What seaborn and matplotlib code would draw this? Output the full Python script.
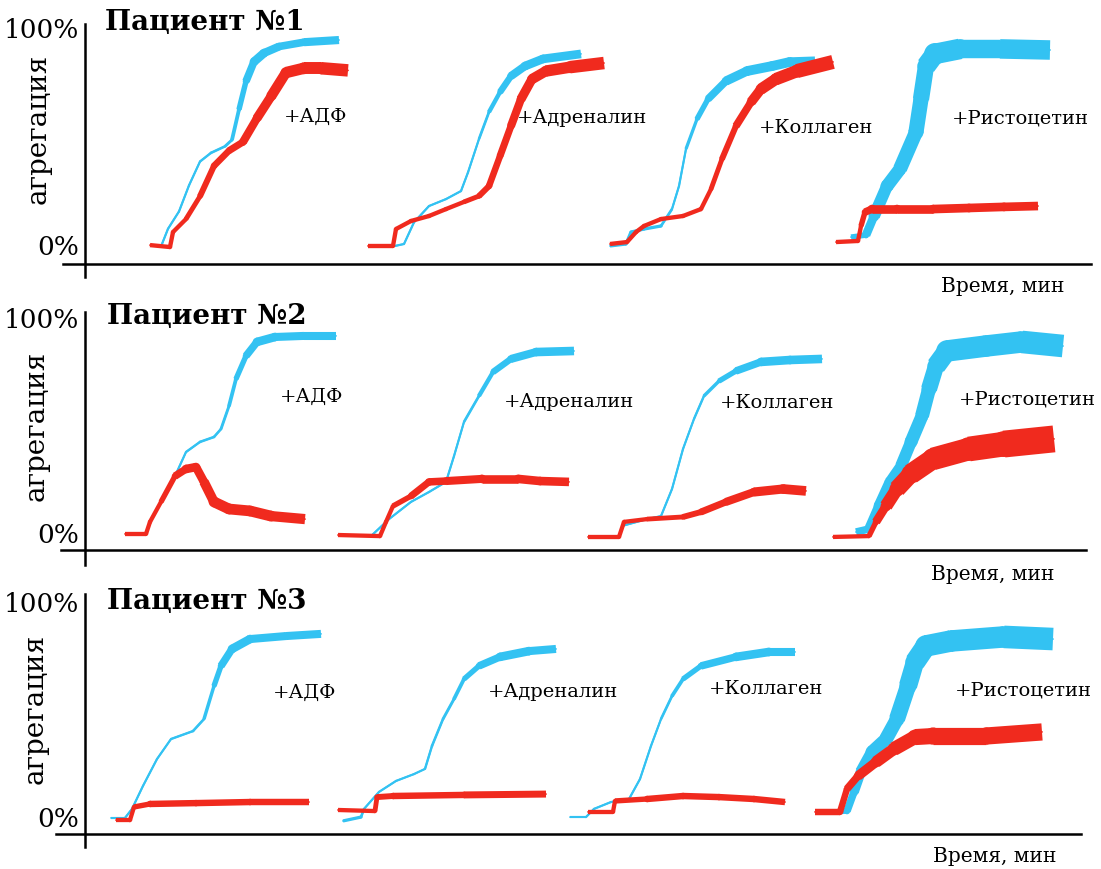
import numpy as np
import matplotlib
matplotlib.use("Agg")
import matplotlib.pyplot as plt
from matplotlib.collections import LineCollection
import seaborn as sns

# agonists and patients
AGENTS = ["+АДФ", "+Адреналин", "+Коллаген", "+Ристоцетин"]
PATIENTS = ["Пациент №1", "Пациент №2", "Пациент №3"]

# aggregation traces: x = time (arb.), y = aggregation %, w = noise band width %
# patient 1
P1_ADP_BLUE_X = [7.7, 8.3, 9.4, 10.4, 11.5, 12.6, 14.0, 14.7, 15.4, 16.1, 16.9, 17.9, 19.4, 21.9, 25.4]
P1_ADP_BLUE_Y = [0, 7, 15, 27, 38, 42, 45, 48, 62, 75, 84, 88, 91, 93, 94]
P1_ADP_BLUE_W = [1, 1, 1, 1, 1, 1.2, 1.2, 1.5, 2, 3, 4, 4, 3.5, 3.5, 4]
P1_ADP_RED_X = [6.5, 8.5, 8.8, 10.1, 11.5, 12.9, 14.4, 15.8, 17.2, 18.6, 20.1, 21.9, 23.6, 26.3]
P1_ADP_RED_Y = [-0.5, -1.4, 5.5, 11.5, 22, 36, 43, 47, 58, 68, 79, 81, 81, 80]
P1_ADP_RED_W = [2, 2, 2, 2, 2.5, 3, 3, 3.5, 4, 4.5, 5, 5.5, 5.5, 6]

P1_ADR_BLUE_X = [31.0, 31.9, 32.9, 34.4, 36.1, 37.6, 38.3, 39.4, 40.4, 41.5, 42.6, 44.0, 45.8, 49.6]
P1_ADR_BLUE_Y = [-0.9, 0, 10, 17.5, 20.7, 24.4, 33, 48.4, 60.8, 70, 77.4, 82, 85.3, 87.6]
P1_ADR_BLUE_W = [1, 1, 1, 1, 1, 1, 1, 1, 1.5, 2.5, 3.5, 4, 4, 4]
P1_ADR_RED_X = [28.3, 30.8, 31.1, 32.6, 34.4, 36.1, 37.9, 39.4, 40.4, 41.5, 42.6, 43.6, 44.7, 46.1, 48.5, 51.9]
P1_ADR_RED_Y = [-0.9, -0.9, 6.9, 10.6, 12.9, 16.1, 19.4, 22.1, 26.7, 40.5, 54.4, 66.8, 76, 79.7, 81.5, 83.4]
P1_ADR_RED_W = [2, 2, 2, 2, 2, 2, 2, 2.5, 3, 3, 3.5, 4, 4.5, 5, 5.5, 6]

P1_COL_BLUE_X = [52.5, 54.1, 54.6, 55.9, 57.6, 58.7, 59.4, 60.1, 61.2, 62.3, 64.1, 66.2, 68.7, 70.5, 73.0]
P1_COL_BLUE_Y = [-0.9, 0, 5.5, 6.9, 8.3, 16.1, 26.7, 43.8, 57.6, 66.8, 75.1, 79.7, 82, 83.9, 84.3]
P1_COL_BLUE_W = [1.5, 1.5, 1.5, 1.5, 1.5, 1, 1, 1, 2, 3, 4, 4.5, 4.5, 4.5, 4]
P1_COL_RED_X = [52.5, 54.2, 55.1, 55.9, 57.6, 59.8, 61.6, 62.6, 63.7, 65.1, 66.6, 67.6, 69.1, 71.2, 74.8]
P1_COL_RED_Y = [0, 0.9, 5.5, 8.3, 11.5, 12.9, 16.1, 25.3, 39.2, 54.4, 65.4, 71.4, 76, 79.7, 83.9]
P1_COL_RED_W = [2, 2, 2, 2, 2, 2, 2, 2, 2.5, 3, 4, 5, 5.5, 6, 7]

P1_RIS_BLUE_X = [76.6, 78.1, 78.9, 80.2, 81.5, 83.1, 83.6, 84.1, 85.0, 87.5, 91.5, 96.5]
P1_RIS_BLUE_Y = [3.2, 4.1, 12.9, 26.7, 34.6, 51.6, 66.8, 82, 87.6, 89.9, 89.9, 89.4]
P1_RIS_BLUE_W = [2, 3, 5, 6, 6, 7, 7, 8, 10, 9, 8, 10]
P1_RIS_RED_X = [75.1, 77.3, 77.6, 78.0, 78.7, 81.2, 84.8, 88.4, 91.9, 95.3]
P1_RIS_RED_Y = [0.9, 1.4, 8.3, 14.7, 16.1, 16.1, 16.1, 16.6, 17.1, 17.5]
P1_RIS_RED_W = [2, 2, 2, 3, 4, 4, 4, 4, 4, 4]

# patient 2
P2_ADP_BLUE_X = [6.1, 6.5, 7.6, 9.0, 10.1, 11.5, 12.9, 13.6, 14.4, 15.1, 16.1, 17.2, 19.0, 21.9, 25.1]
P2_ADP_BLUE_Y = [-0.9, 4.7, 14, 26, 37.2, 41.9, 44.2, 47.9, 58.6, 71.2, 81.9, 88.4, 90.7, 91.2, 91.2]
P2_ADP_BLUE_W = [1, 1, 1, 1, 1, 1.2, 1.2, 1.2, 1.5, 2, 3, 4, 4, 3.5, 4]
P2_ADP_RED_X = [4.0, 6.1, 6.5, 7.6, 9.0, 10.1, 11.1, 11.9, 12.9, 14.4, 16.5, 18.6, 22.0]
P2_ADP_RED_Y = [-0.9, -0.9, 4.7, 14, 26, 29.3, 30.2, 23.3, 14, 10.7, 9.8, 7.4, 6.0]
P2_ADP_RED_W = [2, 2, 2, 2, 3, 4, 4, 4, 5, 5, 5, 5, 4.5]

P2_ADR_BLUE_X = [28.6, 30.4, 32.6, 34.4, 36.1, 36.9, 37.9, 39.4, 40.8, 42.6, 45.1, 48.9]
P2_ADR_BLUE_Y = [-1.9, 6.0, 14, 18.6, 23.3, 35.3, 51.2, 63.3, 74.4, 80.5, 83.7, 84.2]
P2_ADR_BLUE_W = [1, 1, 1, 1, 1, 1, 1, 1.5, 2.5, 3.5, 4, 4]
P2_ADR_RED_X = [25.3, 29.5, 30.1, 30.8, 32.6, 34.4, 36.1, 39.7, 43.3, 45.5, 48.4]
P2_ADR_RED_Y = [-1.4, -1.9, 4.7, 12.1, 16.7, 23.3, 23.7, 24.7, 24.7, 23.7, 23.3]
P2_ADR_RED_W = [2, 2, 2, 2, 3, 3.5, 3.5, 4, 4, 4, 4]

P2_COL_BLUE_X = [53.7, 56.2, 57.6, 58.7, 59.8, 60.9, 61.9, 63.4, 65.1, 67.6, 70.5, 73.7]
P2_COL_BLUE_Y = [2.8, 6.0, 7.4, 20, 38.6, 52.6, 63.3, 70.2, 74.9, 79.1, 80, 80.5]
P2_COL_BLUE_W = [1, 1, 1, 1, 1, 1, 1.2, 2, 3, 4, 4, 4]
P2_COL_RED_X = [50.3, 53.4, 53.9, 56.2, 59.8, 61.6, 64.1, 66.9, 69.8, 72.1]
P2_COL_RED_Y = [-2.3, -2.3, 4.7, 6.0, 7.0, 9.3, 14, 18.6, 20, 19.1]
P2_COL_RED_W = [2, 2, 2, 2, 2.5, 3, 3.5, 4, 4.5, 4.5]

P2_RIS_BLUE_X = [77.1, 78.4, 79.4, 80.5, 81.6, 82.6, 83.7, 84.4, 85.1, 86.2, 90.1, 93.7, 97.8]
P2_RIS_BLUE_Y = [0, 1.4, 12.1, 23.3, 30.7, 41.9, 54, 66.5, 77.2, 84.2, 86.5, 88.4, 86.5]
P2_RIS_BLUE_W = [3, 4, 5, 5, 5, 6, 6, 7, 8, 10, 10, 10, 11]
P2_RIS_RED_X = [74.8, 78.4, 79.1, 80.1, 81.2, 82.6, 84.8, 88.4, 91.9, 96.9]
P2_RIS_RED_Y = [-2.3, -1.9, 4.7, 12.1, 20, 27, 34, 38.6, 40.9, 43.3]
P2_RIS_RED_W = [2, 2, 3, 5, 7, 9, 10, 11, 12, 13]

# patient 3
P3_ADP_BLUE_X = [2.6, 4.0, 4.7, 5.8, 7.2, 8.6, 10.8, 11.9, 12.9, 13.6, 14.7, 16.5, 20.1, 23.6]
P3_ADP_BLUE_Y = [-0.9, -0.9, 3.3, 14, 26.5, 35.8, 39.5, 45.1, 60.5, 69.8, 77.7, 82.3, 83.7, 84.7]
P3_ADP_BLUE_W = [1, 1, 1, 1, 1, 1, 1.2, 1.2, 2, 3, 4, 4, 3.5, 4]
P3_ADP_RED_X = [3.1, 4.5, 4.9, 6.5, 11.1, 16.5, 22.4]
P3_ADP_RED_Y = [-1.9, -1.9, 4.2, 5.6, 6.0, 6.5, 6.5]
P3_ADP_RED_W = [2, 2, 2, 3, 3, 3, 3]

P3_ADR_BLUE_X = [25.8, 27.6, 27.9, 29.4, 31.1, 32.9, 34.0, 34.7, 35.8, 36.9, 37.9, 39.4, 41.5, 44.4, 47.1]
P3_ADR_BLUE_Y = [-2.3, -0.5, 3.3, 11.2, 16.3, 19.5, 21.9, 32.6, 45.1, 54.4, 63.7, 69.8, 74.0, 76.7, 77.7]
P3_ADR_BLUE_W = [1.5, 1.5, 1, 1, 1, 1, 1, 1.2, 1.2, 1.5, 2, 3, 4, 4, 3.5]
P3_ADR_RED_X = [25.3, 29.0, 29.2, 30.8, 37.9, 46.1]
P3_ADR_RED_Y = [2.8, 2.3, 8.8, 9.3, 9.8, 10.2]
P3_ADR_RED_W = [2, 2, 2.5, 3, 3, 3.5]

P3_COL_BLUE_X = [48.5, 50.1, 50.9, 52.6, 54.4, 55.5, 56.6, 57.6, 58.7, 59.8, 61.6, 65.1, 68.4, 71.0]
P3_COL_BLUE_Y = [-0.5, -0.5, 3.3, 6.5, 7.9, 17.2, 32.6, 45.1, 55.8, 63.7, 69.8, 74.0, 76.3, 76.3]
P3_COL_BLUE_W = [1, 1, 1, 1, 1, 1, 1, 1, 1.5, 2, 3, 4, 4, 3.5]
P3_COL_RED_X = [50.3, 52.8, 53.0, 56.2, 59.8, 63.4, 66.9, 70.0]
P3_COL_RED_Y = [1.9, 1.9, 7.0, 7.9, 9.3, 8.8, 7.9, 6.5]
P3_COL_RED_W = [2, 2, 2, 3, 3, 3, 3, 3]

P3_RIS_BLUE_X = [75.1, 76.2, 76.9, 77.6, 78.7, 80.1, 81.2, 82.3, 83.0, 84.1, 86.6, 91.9, 96.8]
P3_RIS_BLUE_Y = [1.9, 2.3, 11.2, 20.5, 29.8, 35.8, 45.1, 60.5, 71.6, 79.1, 81.4, 83.3, 82.3]
P3_RIS_BLUE_W = [2, 3, 4, 5, 6, 6, 7, 8, 9, 10, 10, 10, 11]
P3_RIS_RED_X = [73.0, 75.5, 76.2, 77.3, 79.1, 80.9, 83.0, 84.8, 90.1, 95.7]
P3_RIS_RED_Y = [1.9, 1.9, 12.6, 18.6, 25.1, 31.2, 36.7, 37.2, 37.2, 39.1]
P3_RIS_RED_W = [3, 3, 3, 4, 5, 6, 7, 8, 8, 8]

BLUE = "#33C2F2"
RED = "#F02A1E"

# traces per panel, blue first so red lies on top
TRACES = [
    [(P1_ADP_BLUE_X, P1_ADP_BLUE_Y, P1_ADP_BLUE_W, BLUE), (P1_ADR_BLUE_X, P1_ADR_BLUE_Y, P1_ADR_BLUE_W, BLUE),
     (P1_COL_BLUE_X, P1_COL_BLUE_Y, P1_COL_BLUE_W, BLUE), (P1_RIS_BLUE_X, P1_RIS_BLUE_Y, P1_RIS_BLUE_W, BLUE),
     (P1_ADP_RED_X, P1_ADP_RED_Y, P1_ADP_RED_W, RED), (P1_ADR_RED_X, P1_ADR_RED_Y, P1_ADR_RED_W, RED),
     (P1_COL_RED_X, P1_COL_RED_Y, P1_COL_RED_W, RED), (P1_RIS_RED_X, P1_RIS_RED_Y, P1_RIS_RED_W, RED)],
    [(P2_ADP_BLUE_X, P2_ADP_BLUE_Y, P2_ADP_BLUE_W, BLUE), (P2_ADR_BLUE_X, P2_ADR_BLUE_Y, P2_ADR_BLUE_W, BLUE),
     (P2_COL_BLUE_X, P2_COL_BLUE_Y, P2_COL_BLUE_W, BLUE), (P2_RIS_BLUE_X, P2_RIS_BLUE_Y, P2_RIS_BLUE_W, BLUE),
     (P2_ADP_RED_X, P2_ADP_RED_Y, P2_ADP_RED_W, RED), (P2_ADR_RED_X, P2_ADR_RED_Y, P2_ADR_RED_W, RED),
     (P2_COL_RED_X, P2_COL_RED_Y, P2_COL_RED_W, RED), (P2_RIS_RED_X, P2_RIS_RED_Y, P2_RIS_RED_W, RED)],
    [(P3_ADP_BLUE_X, P3_ADP_BLUE_Y, P3_ADP_BLUE_W, BLUE), (P3_ADR_BLUE_X, P3_ADR_BLUE_Y, P3_ADR_BLUE_W, BLUE),
     (P3_COL_BLUE_X, P3_COL_BLUE_Y, P3_COL_BLUE_W, BLUE), (P3_RIS_BLUE_X, P3_RIS_BLUE_Y, P3_RIS_BLUE_W, BLUE),
     (P3_ADP_RED_X, P3_ADP_RED_Y, P3_ADP_RED_W, RED), (P3_ADR_RED_X, P3_ADR_RED_Y, P3_ADR_RED_W, RED),
     (P3_COL_RED_X, P3_COL_RED_Y, P3_COL_RED_W, RED), (P3_RIS_RED_X, P3_RIS_RED_Y, P3_RIS_RED_W, RED)],
]

# layout in pixels of the 1101x870 picture
W, H = 1101, 870
# per panel: 0% row, 100% row, x-axis row, y-axis top, y-axis bottom, x-axis left, x-axis right
PANEL_PX = [(245, 28, 265, 25, 278, 63, 1091),
            (533, 318, 551, 313, 566, 61, 1086),
            (817, 602, 835, 595, 848, 56, 1081)]
TITLE_PX = [(105, 22), (107, 317), (107, 602)]
YLABEL_PX = [(38, 129), (36, 426), (35, 709)]
XLABEL_PX = [(1003, 287), (993, 575), (995, 857)]
AGENT_PX = [[(316, 117), (582, 118), (816, 128), (1020, 118)],
            [(312, 397), (569, 402), (777, 403), (1027, 400)],
            [(305, 693), (553, 692), (766, 689), (1023, 691)]]

sns.set_theme(style="white")
plt.rcParams["font.family"] = ["DejaVu Serif"]
plt.rcParams["text.color"] = "black"

fig = plt.figure(figsize=(W / 100, H / 100), dpi=100)


def px_x(px):
    return (px - 85) / 10.0


def add_trace(ax, xs, ys, ws, color):
    # thin centre line, then the noisy band as segments of varying width
    sns.lineplot(x=xs, y=ys, color=color, lw=1.3, sort=False, estimator=None, ax=ax)
    ppu = ax.transData.transform((0, 1))[1] - ax.transData.transform((0, 0))[1]
    pts = np.column_stack([xs, ys])
    segs = np.stack([pts[:-1], pts[1:]], axis=1)
    ws = np.asarray(ws, dtype=float) * ppu * 72 / fig.dpi
    ax.add_collection(LineCollection(segs, linewidths=(ws[:-1] + ws[1:]) / 2,
                                     colors=color, capstyle="butt"))
    # round joints between segments
    ax.scatter(pts[1:-1, 0], pts[1:-1, 1], s=ws[1:-1] ** 2, color=color,
               lw=0, marker="o", zorder=2)


for i, (zero, hundred, spine, top, low, xl, xr) in enumerate(PANEL_PX):
    def px_y(py):
        return (zero - py) / (zero - hundred) * 100.0

    t, b = top - 5, low + 2
    ax = fig.add_axes([50 / W, 1 - b / H, (1098 - 50) / W, (b - t) / H])
    ax.set_facecolor("none")
    xlim = (px_x(50), px_x(1098))
    ylim = (px_y(b), px_y(t))
    ax.set_xlim(*xlim)
    ax.set_ylim(*ylim)

    for xs, ys, ws, color in TRACES[i]:
        add_trace(ax, xs, ys, ws, color)
    ax.set_xlim(*xlim)
    ax.set_ylim(*ylim)

    for side in ["top", "right"]:
        ax.spines[side].set_visible(False)
    ax.spines["left"].set_position(("data", 0))
    ax.spines["left"].set_bounds(px_y(low), px_y(top))
    ax.spines["bottom"].set_position(("data", px_y(spine)))
    ax.spines["bottom"].set_bounds(px_x(xl), px_x(xr))
    for side in ["left", "bottom"]:
        ax.spines[side].set_color("black")
        ax.spines[side].set_linewidth(1.8)

    ax.set_xticks([])
    ax.set_yticks([0, 100], ["0%", "100%"])
    ax.tick_params(axis="y", length=0, pad=4, labelsize=19, labelcolor="black")

    tx, ty = TITLE_PX[i]
    fig.text(tx / W, 1 - ty / H, PATIENTS[i], fontsize=20, fontweight="bold",
             ha="left", va="center")
    lx, ly = YLABEL_PX[i]
    fig.text(lx / W, 1 - ly / H, "агрегация", fontsize=20, rotation=90,
             ha="center", va="center")
    xx, xy = XLABEL_PX[i]
    fig.text(xx / W, 1 - xy / H, "Время, мин", fontsize=14.5, ha="center", va="center")
    for name, (ax_px, ay_px) in zip(AGENTS, AGENT_PX[i]):
        fig.text(ax_px / W, 1 - ay_px / H, name, fontsize=14, ha="center", va="center")

fig.savefig("out.png", dpi=100, facecolor="white")
